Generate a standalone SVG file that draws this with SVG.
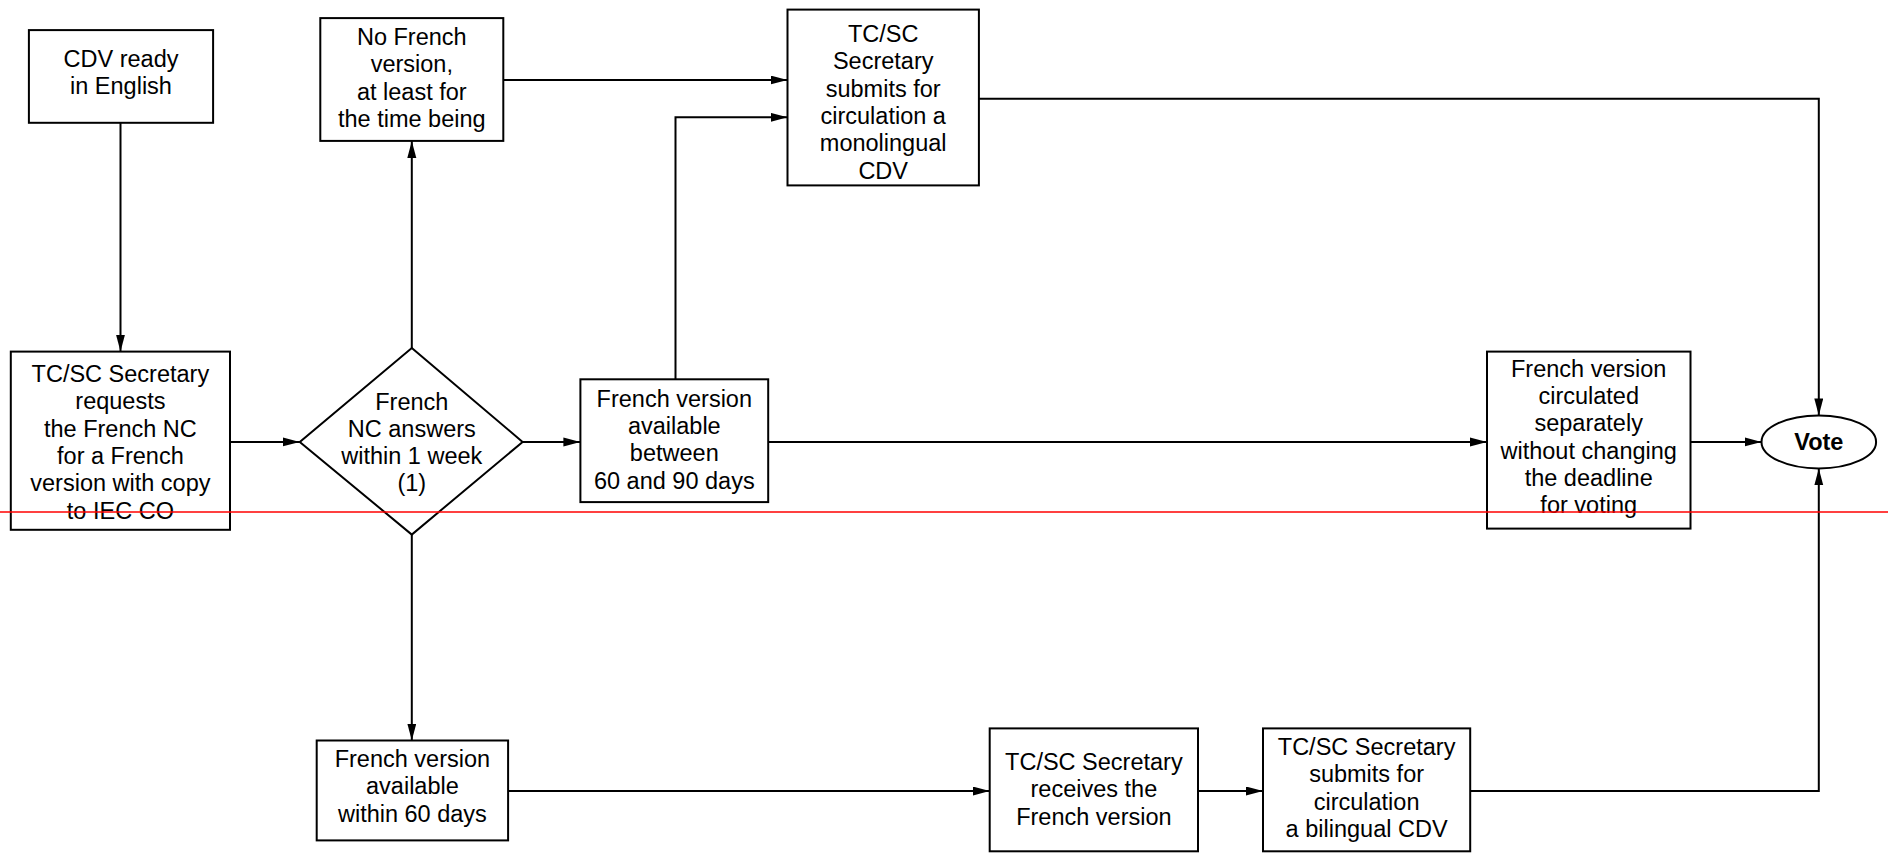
<svg xmlns="http://www.w3.org/2000/svg" width="1888" height="858" viewBox="0 0 1888 858">
<defs>
<style>
.box{fill:#fff;stroke:#000;stroke-width:2}
.t{font-family:"Liberation Sans",Arial,sans-serif;font-size:23.5px;fill:#000;text-anchor:middle}
.b{font-weight:bold}
.c{fill:none;stroke:#000;stroke-width:2}
</style>
<marker id="ah" markerUnits="userSpaceOnUse" markerWidth="18" markerHeight="10" refX="17" refY="4.5" orient="auto">
<path d="M0,0 L17,4.5 L0,9 z" fill="#000"/>
</marker>
</defs>
<rect width="1888" height="858" fill="#fff"/>
<g id="connectors">
<path class="c" d="M120.5,122.8 V351.6" marker-end="url(#ah)"/>
<path class="c" d="M230,441.9 H299.8" marker-end="url(#ah)"/>
<path class="c" d="M411.8,348 V140.9" marker-end="url(#ah)"/>
<path class="c" d="M411.8,534.6 V740.5" marker-end="url(#ah)"/>
<path class="c" d="M522.6,441.9 H580.4" marker-end="url(#ah)"/>
<path class="c" d="M503.3,80 H787.5" marker-end="url(#ah)"/>
<path class="c" d="M675.5,379.3 V117.3 H787.5" marker-end="url(#ah)"/>
<path class="c" d="M978.9,98.7 H1818.8 V415.4" marker-end="url(#ah)"/>
<path class="c" d="M768.2,441.9 H1487" marker-end="url(#ah)"/>
<path class="c" d="M1690.5,441.9 H1761.5" marker-end="url(#ah)"/>
<path class="c" d="M508.1,791 H989.7" marker-end="url(#ah)"/>
<path class="c" d="M1198,791 H1263" marker-end="url(#ah)"/>
<path class="c" d="M1470.2,791 H1818.8 V468.4" marker-end="url(#ah)"/>
</g>
<g id="cdv">
<rect class="box" x="28.9" y="30.1" width="184.2" height="92.7"/>
<text class="t" x="121" y="67">CDV ready</text>
<text class="t" x="121" y="94">in English</text>
</g>
<g id="nofrench">
<rect class="box" x="320.3" y="18.1" width="183" height="122.8"/>
<text class="t" x="411.8" y="45">No French</text>
<text class="t" x="411.8" y="72.3">version,</text>
<text class="t" x="411.8" y="99.6">at least for</text>
<text class="t" x="411.8" y="126.9">the time being</text>
</g>
<g id="mono">
<rect class="box" x="787.5" y="9.6" width="191.4" height="175.8"/>
<text class="t" x="883.2" y="42">TC/SC</text>
<text class="t" x="883.2" y="69.3">Secretary</text>
<text class="t" x="883.2" y="96.6">submits for</text>
<text class="t" x="883.2" y="123.9">circulation a</text>
<text class="t" x="883.2" y="151.2">monolingual</text>
<text class="t" x="883.2" y="178.5">CDV</text>
</g>
<g id="request">
<rect class="box" x="10.8" y="351.6" width="219.2" height="178.2"/>
<text class="t" x="120.4" y="382">TC/SC Secretary</text>
<text class="t" x="120.4" y="409.3">requests</text>
<text class="t" x="120.4" y="436.6">the French NC</text>
<text class="t" x="120.4" y="463.9">for a French</text>
<text class="t" x="120.4" y="491.2">version with copy</text>
<text class="t" x="120.4" y="518.5">to IEC CO</text>
</g>
<g id="decision">
<polygon class="box" points="411.8,348 522.6,441.9 411.8,534.6 299.8,441.9"/>
<text class="t" x="411.8" y="409.5">French</text>
<text class="t" x="411.8" y="436.8">NC answers</text>
<text class="t" x="411.8" y="464.1">within 1 week</text>
<text class="t" x="411.8" y="491.4">(1)</text>
</g>
<g id="between">
<rect class="box" x="580.4" y="379.3" width="187.8" height="122.8"/>
<text class="t" x="674.3" y="406.7">French version</text>
<text class="t" x="674.3" y="434">available</text>
<text class="t" x="674.3" y="461.3">between</text>
<text class="t" x="674.3" y="488.6">60 and 90 days</text>
</g>
<g id="circulated">
<rect class="box" x="1487" y="351.6" width="203.5" height="177"/>
<text class="t" x="1588.7" y="376.7">French version</text>
<text class="t" x="1588.7" y="404">circulated</text>
<text class="t" x="1588.7" y="431.3">separately</text>
<text class="t" x="1588.7" y="458.6">without changing</text>
<text class="t" x="1588.7" y="485.9">the deadline</text>
<text class="t" x="1588.7" y="513.2">for voting</text>
</g>
<g id="vote">
<ellipse class="box" cx="1818.8" cy="441.9" rx="57.3" ry="26.5"/>
<text class="t b" x="1818.8" y="450">Vote</text>
</g>
<g id="within60">
<rect class="box" x="316.7" y="740.5" width="191.4" height="99.9"/>
<text class="t" x="412.4" y="767">French version</text>
<text class="t" x="412.4" y="794.3">available</text>
<text class="t" x="412.4" y="821.6">within 60 days</text>
</g>
<g id="receives">
<rect class="box" x="989.7" y="728.4" width="208.3" height="122.9"/>
<text class="t" x="1093.9" y="770">TC/SC Secretary</text>
<text class="t" x="1093.9" y="797.3">receives the</text>
<text class="t" x="1093.9" y="824.6">French version</text>
</g>
<g id="bilingual">
<rect class="box" x="1263" y="728.4" width="207.2" height="122.9"/>
<text class="t" x="1366.6" y="755">TC/SC Secretary</text>
<text class="t" x="1366.6" y="782.3">submits for</text>
<text class="t" x="1366.6" y="809.6">circulation</text>
<text class="t" x="1366.6" y="836.9">a bilingual CDV</text>
</g>
<line x1="0" y1="512" x2="1888" y2="512" stroke="#ff0000" stroke-width="1.5"/>
</svg>
